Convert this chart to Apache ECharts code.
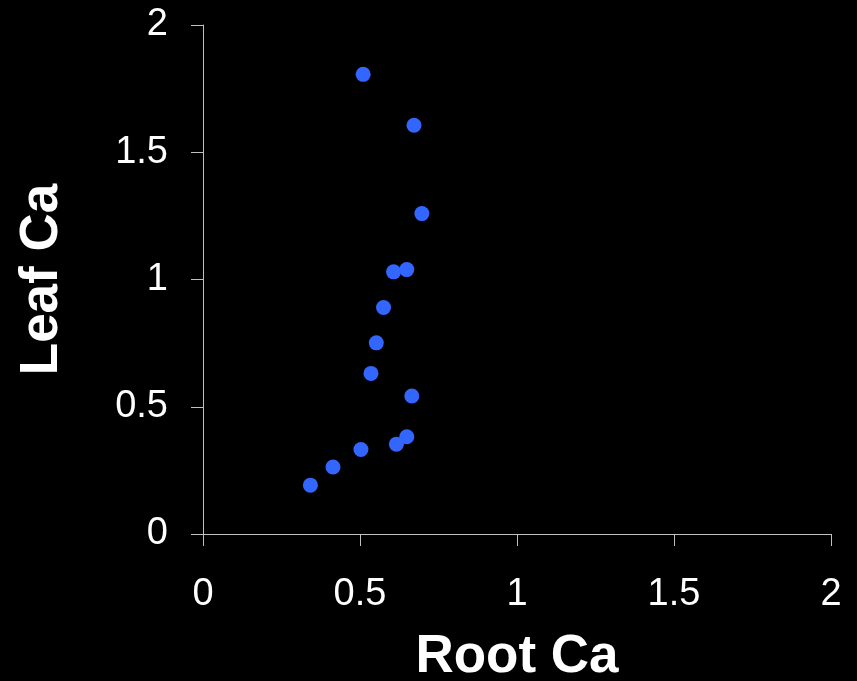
<!DOCTYPE html>
<html><head><meta charset="utf-8">
<script src="https://cdn.jsdelivr.net/npm/echarts@6/dist/echarts.min.js"></script>
<style>html,body{margin:0;padding:0;background:#000;}#c{width:857px;height:681px;}</style>
</head><body><div id="c"></div>
<script>
const rootCa = [0.510, 0.672, 0.697, 0.607, 0.649, 0.575, 0.552, 0.535, 0.665, 0.649, 0.616, 0.503, 0.414, 0.342];
const leafCa = [1.806, 1.606, 1.259, 1.030, 1.039, 0.890, 0.751, 0.631, 0.542, 0.382, 0.353, 0.332, 0.263, 0.192];
const xTitle = 'Root Ca';
const yTitle = 'Leaf Ca';

const pts = rootCa.map((x, i) => [x, leafCa[i]]);
const font = '"Liberation Sans", Arial, sans-serif';
const axisCommon = {
  min: 0, max: 2, interval: 0.5,
  axisLine: { show: true, lineStyle: { color: '#c0c0c0', width: 1 } },
  axisTick: { show: true, inside: false, length: 12, lineStyle: { color: '#c0c0c0', width: 1 } },
  splitLine: { show: false },
  nameLocation: 'middle',
  nameTextStyle: { color: '#fff', fontSize: 53, fontWeight: 'bold', fontFamily: font }
};
const chart = echarts.init(document.getElementById('c'), null, { renderer: 'canvas' });
chart.setOption({
  backgroundColor: '#000',
  animation: false,
  grid: { left: 203, top: 25, right: 26, bottom: 147, containLabel: false, outerBoundsMode: 'none' },
  xAxis: Object.assign({}, axisCommon, {
    type: 'value', name: xTitle, nameGap: 97,
    axisLabel: { color: '#fff', fontSize: 38, fontFamily: font, margin: 42 }
  }),
  yAxis: Object.assign({}, axisCommon, {
    type: 'value', name: yTitle, nameGap: 134, nameRotate: 90,
    axisLabel: { color: '#fff', fontSize: 38, fontFamily: font, margin: 35 }
  }),
  series: [{
    type: 'scatter', data: pts, symbol: 'circle', symbolSize: 15,
    itemStyle: { color: '#3366ff', opacity: 1 }
  }]
});
</script></body></html>
